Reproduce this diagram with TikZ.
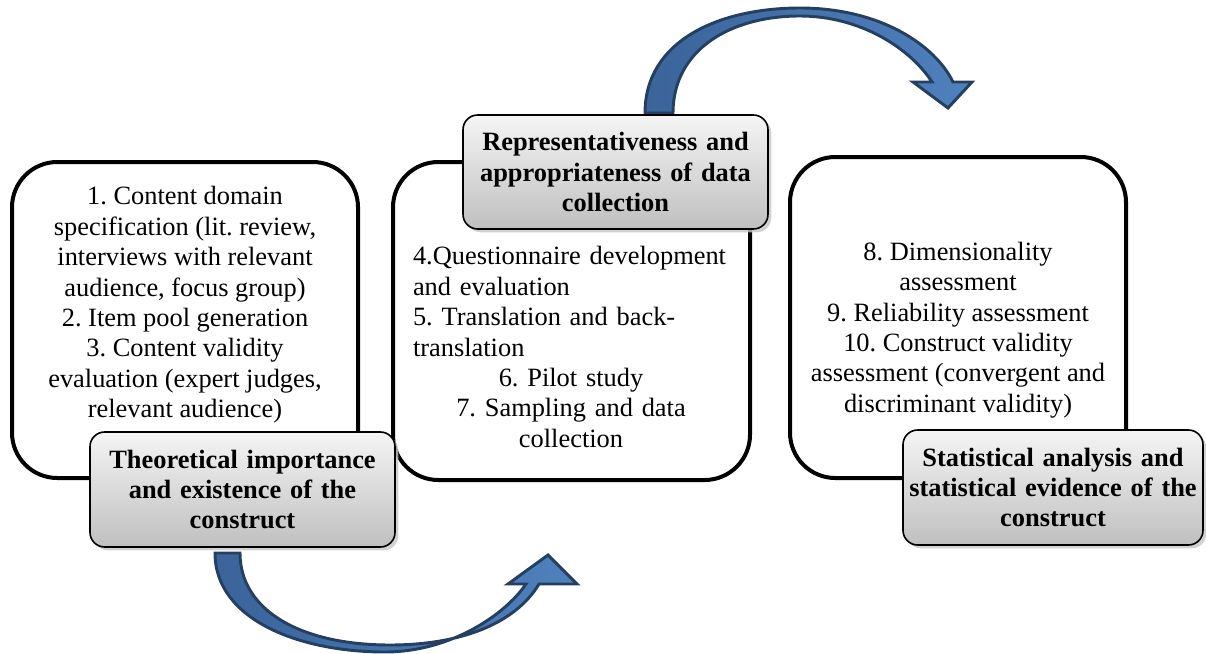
\documentclass[tikz,border=0pt]{standalone}
\usepackage{fontspec}
\IfFontExistsTF{LiberationSerif-Regular.ttf}
  {\setmainfont{LiberationSerif}[Extension=.ttf, UprightFont=*-Regular,
     BoldFont=*-Bold, ItalicFont=*-Italic, BoldItalicFont=*-BoldItalic]}
  {\setmainfont{Liberation Serif}}
\usetikzlibrary{shadows}
\definecolor{arrowline}{HTML}{243F60}
\definecolor{arrowdark}{HTML}{3A649A}
\definecolor{arrowlight}{HTML}{4F81BD}
\begin{document}
\frenchspacing
\begin{tikzpicture}[x=0.75pt,y=-0.75pt,
  stagebox/.style={draw=black, line width=3pt, rounded corners=34pt, fill=white},
  bodytext/.style={font=\rmfamily\fontsize{19.8}{22.8}\selectfont, inner sep=0pt},
  headbox/.style={draw=black, line width=1.2pt, rounded corners=11pt,
    top color=gray!8, bottom color=gray!50,
    drop shadow={shadow xshift=2.5pt, shadow yshift=-2.5pt, fill=gray!45, opacity=0.8},
    font=\rmfamily\bfseries\fontsize{19.8}{22.8}\selectfont, align=center, inner sep=0pt},
  bluearrow/.style={draw=arrowline, line width=2.2pt, line join=miter,
    left color=arrowdark, right color=arrowlight}
]
\useasboundingbox (0,0) rectangle (1206,653);

% three stage frames
\node[stagebox, minimum width={346*0.75pt}, minimum height={316*0.75pt}] (b1) at (185,320) {};
\node[stagebox, minimum width={357*0.75pt}, minimum height={318*0.75pt}] (b2) at (571.5,321) {};
\node[stagebox, minimum width={336*0.75pt}, minimum height={321*0.75pt}] (b3) at (958,317.5) {};

% stage contents
\node[bodytext, align=center] (t1) at (185,305) {1. Content domain\\specification (lit. review,\\interviews with relevant\\audience, focus group)\\2. Item pool generation\\3. Content validity\\evaluation (expert judges,\\relevant audience)};
\node[bodytext, text width={316*0.75pt}] (t2) at (571,347) {\raggedright 4.Questionnaire development\\and evaluation\\5. Translation and back-\\translation\par\centering 6. Pilot study\\7. Sampling and data\\collection\par};
\node[bodytext, align=center] (t3) at (958,330) {8. Dimensionality\\assessment\\9. Reliability assessment\\10. Construct validity\\assessment (convergent and\\discriminant validity)};

% curved block arrows
\path[bluearrow] (215,553) .. controls (215,620) and (300,652) .. (385,652)
  .. controls (450,652) and (505,615) .. (526,584)
  -- (508,584) -- (548,555) -- (577,584) -- (539,584)
  .. controls (515,624) and (460,645) .. (390,645)
  .. controls (300,645) and (240,610) .. (240,553) -- cycle;
\path[bluearrow] (645,113) .. controls (645,40) and (720,8) .. (800,8)
  .. controls (880,8) and (935,45) .. (953,82)
  -- (972,82) -- (948,108) -- (913,82) -- (932,82)
  .. controls (910,48) and (860,16) .. (800,16)
  .. controls (730,16) and (673,50) .. (673,113) -- cycle;

% stage headings
\node[headbox, minimum width={305*0.75pt}, minimum height={115*0.75pt}, text width={290*0.75pt}] (h1) at (242.5,489.5) {Theoretical importance\\and existence of the\\construct};
\node[headbox, minimum width={305*0.75pt}, minimum height={114*0.75pt}, text width={290*0.75pt}] (h2) at (615.5,172) {Representativeness and\\appropriateness of data\\collection};
\node[headbox, minimum width={300*0.75pt}, minimum height={115*0.75pt}, text width={296*0.75pt}] (h3) at (1053,487.5) {Statistical analysis and\\statistical evidence of the\\construct};
\end{tikzpicture}
\end{document}
